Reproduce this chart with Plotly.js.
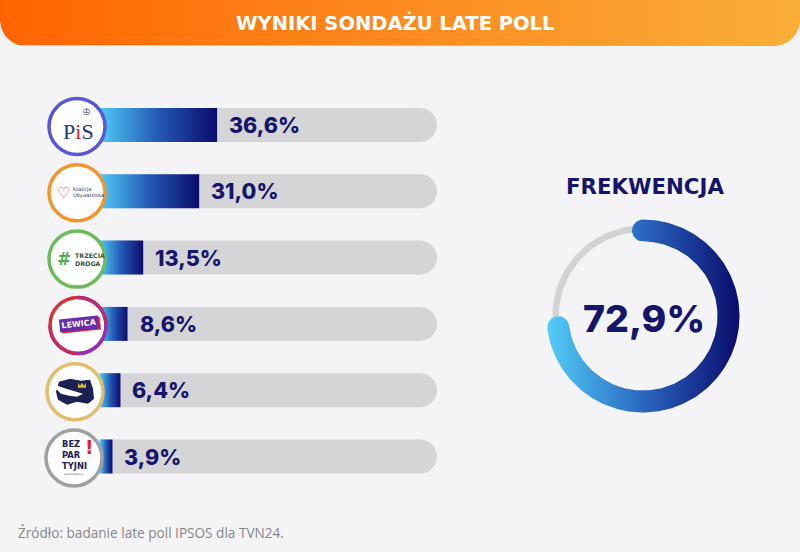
<!DOCTYPE html>
<html><head><meta charset="utf-8">
<script src="https://cdn.plot.ly/plotly-3.0.1.min.js"></script>
<style>html,body{margin:0;padding:0;background:#f4f4f6;}#chart{width:800px;height:552px;}</style>
</head><body><div id="chart"></div>
<script>
// ---------- data ----------
const parties = ['PiS', 'Koalicja Obywatelska', 'Trzecia Droga', 'Lewica', 'Konfederacja', 'Bezpartyjni Samorządowcy'];
const results = [36.6, 31.0, 13.5, 8.6, 6.4, 3.9];
const turnout = 72.9;
const titleText = 'WYNIKI SONDAŻU LATE POLL';
const turnoutLabel = 'FREKWENCJA';
const sourceText = 'Źródło: badanie late poll IPSOS dla TVN24.';
const fmt = v => v.toFixed(1).replace('.', ',') + '%';

// ---------- layout constants ----------
const W = 800, H = 552;
const PX0 = 100, PXU = 3.2;
const ROW0 = 125, ROWH = 66.3;
const BAR_H = 34;
const half = BAR_H / 2 / ROWH;
const TRACK_MAX = 100, BASE = -8;
const idx = parties.map((_, i) => i);
const NAVY = '#15156b';
const TRACK = '#d5d5d8';

const traces = [];
// grey tracks
traces.push({type:'bar', orientation:'h', y: idx, x: idx.map(() => TRACK_MAX - BASE), base: BASE,
  width: 2 * half, marker:{color: TRACK}, hoverinfo:'skip'});
traces.push({type:'scatter', mode:'markers', y: idx, x: idx.map(() => TRACK_MAX),
  marker:{size: BAR_H, color: TRACK, line:{width:0}}, hoverinfo:'skip'});
// gradient result bars
results.forEach((v, i) => {
  traces.push({type:'scatter', mode:'lines', x:[0, v, v, 0, 0], y:[i-half, i-half, i+half, i+half, i-half],
    fill:'toself', line:{width:0, color:'rgba(0,0,0,0)'},
    fillgradient:{type:'horizontal', colorscale:[[0,'#4fcaf7'],[0.5,'#2358b4'],[1,'#0b0c6c']]},
    hoverinfo:'skip'});
});

// ---------- header (pixel axes) ----------
const HB = 46, HR = 26;
(function(){
  const xs = [0, W], ys = [0, 0];
  for (let k = 0; k <= 20; k++) { const t = Math.PI/2 * k/20; xs.push(W - HR + HR*Math.cos(t)); ys.push(HB - HR + HR*Math.sin(t)); }
  for (let k = 0; k <= 20; k++) { const t = Math.PI/2 + Math.PI/2 * k/20; xs.push(HR + HR*Math.cos(t)); ys.push(HB - HR + HR*Math.sin(t)); }
  xs.push(0); ys.push(0);
  traces.push({type:'scatter', mode:'lines', x: xs, y: ys, xaxis:'x2', yaxis:'y2', fill:'toself',
    line:{width:0, color:'rgba(0,0,0,0)'},
    fillgradient:{type:'horizontal', colorscale:[[0,'#ff6400'],[0.5,'#fd8a1f'],[1,'#f9ae38']]}, hoverinfo:'skip'});
})();

// ---------- turnout donut (pixel axes) ----------
const CX = 643, CY = 316, RM = 85.5, TH = 11, RG = 87.5;
(function(){
  const gx = [], gy = [];
  for (let k = 0; k <= 240; k++) { const a = 2*Math.PI*k/240; gx.push(CX + RG*Math.sin(a)); gy.push(CY - RG*Math.cos(a)); }
  traces.push({type:'scatter', mode:'lines', x: gx, y: gy, xaxis:'x2', yaxis:'y2', line:{width:6.5, color:'#d3d3d6'}, hoverinfo:'skip'});

  const span = turnout/100 * 2*Math.PI;
  const P = (a, r) => [CX + r*Math.sin(a), CY - r*Math.cos(a)];
  const pts = [], N = 160, M = 24;
  for (let k = 0; k <= N; k++) pts.push(P(span*k/N, RM + TH));
  const ue = [Math.sin(span), -Math.cos(span)], te = [Math.cos(span), Math.sin(span)], ce = P(span, RM);
  for (let k = 1; k < M; k++) { const f = Math.PI*k/M; pts.push([ce[0] + TH*(Math.cos(f)*ue[0] + Math.sin(f)*te[0]), ce[1] + TH*(Math.cos(f)*ue[1] + Math.sin(f)*te[1])]); }
  for (let k = N; k >= 0; k--) pts.push(P(span*k/N, RM - TH));
  const cs = P(0, RM);
  for (let k = M-1; k >= 1; k--) { const f = Math.PI*k/M; pts.push([cs[0] - TH*Math.sin(f), cs[1] - TH*Math.cos(f)]); }
  pts.push(pts[0]);
  traces.push({type:'scatter', mode:'lines', x: pts.map(p=>p[0]), y: pts.map(p=>p[1]), xaxis:'x2', yaxis:'y2',
    fill:'toself', line:{width:0, color:'rgba(0,0,0,0)'},
    fillgradient:{type:'horizontal', colorscale:[[0,'#52cdf7'],[0.5,'#2a66c0'],[1,'#0a0c6c']]}, hoverinfo:'skip'});
})();

// ---------- logos ----------
const LOGO_CX = [77, 77, 77, 78, 75, 74];
const LOGO_RING = ['#5a57d6', '#f3952d', '#6cbb5a', '#dc2f3c', '#e3bd6e', '#a0a0a0'];
const LOGO_R = 28;
const rowY = i => ROW0 + i*ROWH + 1.5;
const shapes = [];
LOGO_CX.forEach((cx, i) => {
  const cy = rowY(i);
  shapes.push({type:'circle', xref:'x2', yref:'y2', x0: cx-LOGO_R, x1: cx+LOGO_R, y0: cy-LOGO_R, y1: cy+LOGO_R,
    fillcolor:'#ffffff', line:{color: LOGO_RING[i], width:3.5}, layer:'above'});
});
// Lewica ring colour steps
(function(){
  const cx = LOGO_CX[3], cy = rowY(3), r = LOGO_R, k = 0.5523*r;
  shapes.push({type:'path', xref:'x2', yref:'y2', layer:'above', line:{color:'#b52c7a', width:3.5},
    path:`M ${cx} ${cy-r} C ${cx+k} ${cy-r} ${cx+r} ${cy-k} ${cx+r} ${cy}`});
  shapes.push({type:'path', xref:'x2', yref:'y2', layer:'above', line:{color:'#9530b6', width:3.5},
    path:`M ${cx+r} ${cy} C ${cx+r} ${cy+k} ${cx+k} ${cy+r} ${cx} ${cy+r}`});
  shapes.push({type:'path', xref:'x2', yref:'y2', layer:'above', line:{color:'#c52d62', width:3.5},
    path:`M ${cx} ${cy+r} C ${cx-k} ${cy+r} ${cx-r} ${cy+k} ${cx-r} ${cy}`});
})();
// Konfederacja map mark
(function(){
  const cx = LOGO_CX[4], cy = rowY(4);
  const poly = [[-16,-10],[-5,-13],[6,-11],[15,-12],[18,-3],[19,7],[13,12],[2,10],[-8,13],[-17,8],[-19,0]];
  shapes.push({type:'path', xref:'x2', yref:'y2', layer:'above', fillcolor:'#1b2150', line:{width:0},
    path: 'M ' + poly.map(p => (cx+p[0]) + ' ' + (cy+p[1])).join(' L ') + ' Z'});
  const bird = [[-22,-8],[-12,-4],[-2,-1],[8,2],[2,5],[-6,4],[-14,2],[-19,-3]];
  shapes.push({type:'path', xref:'x2', yref:'y2', layer:'above', fillcolor:'#ffffff', line:{width:0},
    path: 'M ' + bird.map(p => (cx+p[0]) + ' ' + (cy+p[1])).join(' L ') + ' Z'});
  const crown = [[3,-9],[5,-6],[7,-9],[9,-6],[11,-9],[11,-4],[3,-4]];
  shapes.push({type:'path', xref:'x2', yref:'y2', layer:'above', fillcolor:'#e6b832', line:{width:0},
    path: 'M ' + crown.map(p => (cx+p[0]) + ' ' + (cy+p[1])).join(' L ') + ' Z'});
})();

const ann = [];
const A = (o) => ann.push(Object.assign({xref:'x2', yref:'y2', showarrow:false}, o));
// header title
A({x: 395, y: 23, text: '<b>' + titleText + '</b>', font:{family:'DejaVu Sans', size:19.5, color:'#ffffff'}});
// value labels
results.forEach((v, i) => ann.push({xref:'x', yref:'y', x: v, y: i, xanchor:'left', xshift: 10, showarrow:false,
  text: fmt(v), font:{family:'Inter', size:21.5, weight:800, color: NAVY}}));
// turnout
A({x: CX + 2, y: 186, text: '<b>' + turnoutLabel + '</b>', font:{family:'DejaVu Sans', size:21.3, color: NAVY}});
A({x: CX + 1, y: 318, text: fmt(turnout), font:{family:'Inter', size:37.5, weight:800, color: NAVY}});
// source
A({x: 16, y: 532, xanchor:'left', text: sourceText, font:{family:'Open Sans', size:13.6, color:'#878787'}});
// logo contents
A({x: 78, y: 131, text: 'P<span style="color:#d8232a">i</span>S', font:{family:'Liberation Serif', size:22, color:'#1f3a7a'}});
A({x: 86, y: 111, text: '♔', font:{family:'DejaVu Sans', size:10, color:'#2c3e8f'}});
A({x: 63, y: rowY(1), text: '<b>♡</b>', font:{family:'DejaVu Sans', size:15, color:'#e52e4d'}});
A({x: 71, y: rowY(1), xanchor:'left', align:'left', text: 'Koalicja<br>Obywatelska', font:{family:'DejaVu Sans', size:4.8, color:'#1f2a6e'}});
A({x: 64, y: rowY(2), text: '<b>#</b>', font:{family:'DejaVu Sans', size:17, color:'#4fae4f'}});
A({x: 73, y: rowY(2), xanchor:'left', align:'left', text: '<b>TRZECIA<br>DROGA</b>', font:{family:'DejaVu Sans', size:6.3, color:'#3b5245'}});
A({x: 81, y: rowY(3)-0.5, text: '<b>LEWICA</b>', textangle:-6, bgcolor:'#e0283a', borderpad:1.5, font:{family:'DejaVu Sans', size:8, color:'#e0283a'}});
A({x: 79, y: rowY(3)-1, text: '<b>LEWICA</b>', textangle:-6, bgcolor:'#6a2ca8', borderpad:1.5, font:{family:'DejaVu Sans', size:8, color:'#ffffff'}});
A({x: 61, y: 455, xanchor:'left', align:'left', borderpad:0, text: '<b>BEZ<br>PAR<br>TYJNI</b>', font:{family:'DejaVu Sans', size:8.4, color:'#1d2150'}});
A({x: 74, y: 474.5, borderpad:0, text: 'samorządowcy', font:{family:'DejaVu Sans', size:2.6, color:'#555555'}});
A({x: 89.5, y: 447, borderpad:0, text: '<b>!</b>', font:{family:'DejaVu Sans', size:19, color:'#e4242b'}});

const layout = {
  width: W, height: H, margin:{l:0, r:0, t:0, b:0, pad:0},
  paper_bgcolor:'#f4f4f6', plot_bgcolor:'rgba(0,0,0,0)', showlegend:false, hovermode:false,
  xaxis:{range:[-PX0/PXU, (W-PX0)/PXU], visible:false, fixedrange:true},
  yaxis:{range:[(H-ROW0)/ROWH, -ROW0/ROWH], visible:false, fixedrange:true},
  xaxis2:{range:[0, W], overlaying:'x', visible:false, fixedrange:true},
  yaxis2:{range:[H, 0], overlaying:'y', visible:false, fixedrange:true},
  shapes: shapes, annotations: ann
};
Plotly.newPlot('chart', traces, layout, {staticPlot:true, displayModeBar:false});
</script></body></html>
